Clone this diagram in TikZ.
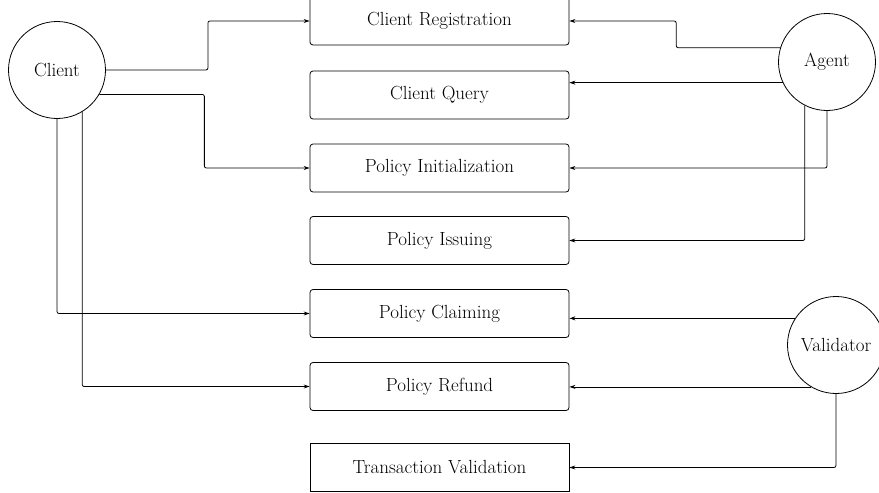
\documentclass[tikz,border=0pt]{standalone}
\usepackage{fontspec}
\usetikzlibrary{arrows.meta}
\begin{document}
\begin{tikzpicture}[>={Stealth[length=6pt,width=4pt]}, x=1pt, y=-1pt, line width=0.8pt,
    task/.style={draw, rounded corners=3pt, minimum width=259pt, minimum height=48pt, font=\fontsize{19}{22}\selectfont},
    actor/.style={draw, circle, minimum size=97pt, inner sep=1pt, font=\fontsize{19}{22}\selectfont},
    link/.style={->, rounded corners=2pt}]
    \useasboundingbox (0,0) rectangle (879,493);
    % actors
    \node[actor] (client) at (57,70) {Client};
    \node[actor] (agent) at (827,62) {Agent};
    \node[actor] (validator) at (836,345) {Validator};
    % tasks
    \node[task] (reg) at (439.5,21) {Client Registration};
    \node[task] (query) at (439.5,95) {Client Query};
    \node[task] (init) at (439.5,168) {Policy Initialization};
    \node[task] (issue) at (439.5,240.5) {Policy Issuing};
    \node[task] (claim) at (439.5,313.5) {Policy Claiming};
    \node[task] (refund) at (439.5,386.5) {Policy Refund};
    \node[task, sharp corners] (valid) at (439.5,467.5) {Transaction Validation};
    % client side
    \draw[link] (client.east) -- ++(102,0) |- (reg.west);
    \draw[link] (client.-30) -- ++(105,0) |- (init.west);
    \draw[link] (client.south) |- (claim.west);
    \draw[link] (client.-59) |- (refund.west);
    % agent side
    \draw[link] (agent.163) -- ++(-104,0) |- (reg.east);
    \draw[link] (agent.205) -- (query.east |- agent.205);
    \draw[link] (agent.south) |- (init.east);
    \draw[link] (agent.243) |- (issue.east);
    % validator side
    \draw[link] (validator.147) -- (claim.east |- validator.147);
    \draw[link] (validator.239) -- (refund.east |- validator.239);
    \draw[link] (validator.south) |- (valid.east);
\end{tikzpicture}
\end{document}
